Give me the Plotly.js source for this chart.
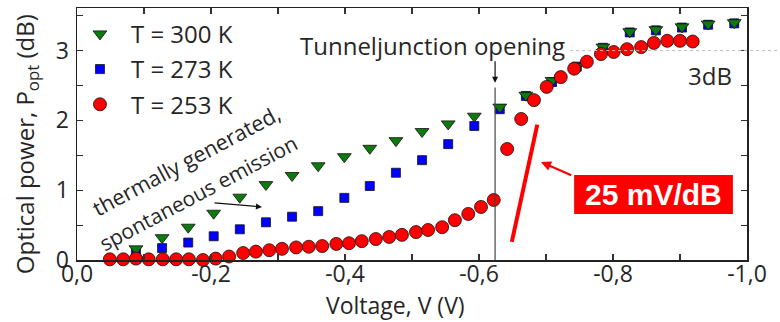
<!DOCTYPE html>
<html>
<head>
<meta charset="utf-8">
<script src="https://cdn.plot.ly/plotly-3.0.1.min.js"></script>
<style>html,body{margin:0;padding:0;background:#fff;}#chart{width:780px;height:322px;}</style>
</head>
<body>
<div id="chart"></div>
<script>
// ---- data (voltage in V, optical power in dB) ----
const seriesNames = ['T = 300 K', 'T = 273 K', 'T = 253 K'];

const v300 = [-0.088,-0.127,-0.166,-0.204,-0.243,-0.282,-0.321,-0.360,-0.399,-0.437,-0.476,-0.515,-0.554,-0.593,-0.631,-0.670,-0.709,-0.746,-0.785,-0.825,-0.864,-0.903,-0.942,-0.981];
const p300 = [0.16,0.32,0.47,0.67,0.90,1.08,1.21,1.35,1.48,1.60,1.71,1.84,1.95,2.06,2.19,2.36,2.57,2.77,3.05,3.27,3.30,3.34,3.38,3.40];

const v273 = [-0.088,-0.127,-0.166,-0.204,-0.243,-0.282,-0.321,-0.360,-0.399,-0.437,-0.476,-0.515,-0.554,-0.593,-0.631,-0.670,-0.709,-0.746,-0.785,-0.825,-0.864,-0.903,-0.942,-0.981];
const p273 = [0.11,0.17,0.25,0.34,0.44,0.54,0.62,0.70,0.89,1.06,1.25,1.43,1.66,1.92,2.16,2.35,2.55,2.77,3.04,3.26,3.29,3.33,3.37,3.39];

const v253 = [-0.049,-0.069,-0.088,-0.107,-0.128,-0.148,-0.167,-0.188,-0.207,-0.227,-0.248,-0.267,-0.287,-0.306,-0.327,-0.346,-0.366,-0.387,-0.406,-0.425,-0.446,-0.466,-0.485,-0.506,-0.524,-0.545,-0.564,-0.584,-0.603,-0.622,-0.642,-0.663,-0.682,-0.701,-0.722,-0.742,-0.761,-0.782,-0.801,-0.821,-0.842,-0.861,-0.881,-0.900,-0.919];
const p253 = [0.01,0.01,0.02,0.01,0.01,0.01,0.01,0.00,0.02,0.05,0.10,0.12,0.14,0.16,0.18,0.19,0.20,0.23,0.24,0.27,0.30,0.33,0.36,0.40,0.43,0.47,0.57,0.66,0.76,0.86,1.59,2.02,2.29,2.48,2.62,2.74,2.84,2.95,2.98,3.02,3.05,3.11,3.14,3.14,3.13];

const xTickVals = [0, -0.2, -0.4, -0.6, -0.8, -1.0];
const xTickText = ['0,0', '-0,2', '-0,4', '-0,6', '-0,8', '-1,0'];
const yTickVals = [0, 1, 2, 3];
const yTickText = ['0', '1', '2', '3'];

// ---- chart ----
const FONT = 'Open Sans, DejaVu Sans, sans-serif';
const TXT = '#262626';

const traces = [
  {x: v273, y: p273, name: seriesNames[1], type: 'scatter', mode: 'markers', cliponaxis: false,
   legendrank: 2, legendgroup: 'b',
   marker: {symbol: 'square', size: 9, color: '#0000ff', line: {color: '#111', width: 0.8}}},
  {x: v300, y: p300, name: seriesNames[0], type: 'scatter', mode: 'markers', cliponaxis: false,
   legendrank: 1, legendgroup: 'a',
   marker: {symbol: 'triangle-down', size: 12, color: '#0d7a0d', line: {color: '#111', width: 0.8}}},
  {x: v253, y: p253, name: seriesNames[2], type: 'scatter', mode: 'markers', cliponaxis: false,
   legendrank: 3, legendgroup: 'c',
   marker: {symbol: 'circle', size: 13, color: '#ff0000', line: {color: '#111', width: 0.8}}}
];

const axisCommon = {
  showline: true, linecolor: '#222', linewidth: 1.5, mirror: 'ticks',
  ticks: 'inside', ticklen: 6, tickwidth: 1.2, tickcolor: '#333',
  showgrid: false, zeroline: false,
  tickfont: {family: FONT, size: 23, color: TXT}
};

const layout = {
  width: 780, height: 322,
  margin: {l: 77, r: 33, t: 8, b: 62},
  paper_bgcolor: '#fff', plot_bgcolor: '#fff',
  font: {family: FONT, size: 23, color: TXT},
  showlegend: true,
  legend: {x: -0.012, y: 0.985, xanchor: 'left', yanchor: 'top', bgcolor: 'rgba(0,0,0,0)',
           font: {family: FONT, size: 24, color: TXT}, itemwidth: 52, tracegroupgap: 1},
  xaxis: Object.assign({}, axisCommon, {
    range: [0, -1.0], tickmode: 'array', tickvals: xTickVals, ticktext: xTickText,
    ticklabelstandoff: -7,
    minor: {tickmode: 'linear', tick0: 0, dtick: 0.1, ticks: 'inside', ticklen: 6, tickwidth: 1.2, tickcolor: '#333', showgrid: false}
  }),
  yaxis: Object.assign({}, axisCommon, {
    range: [0, 3.61], tickmode: 'array', tickvals: yTickVals, ticktext: yTickText,
    ticklabelstandoff: 2,
    minor: {tickmode: 'linear', tick0: 0, dtick: 0.5, ticks: 'inside', ticklen: 6, tickwidth: 1.2, tickcolor: '#333', showgrid: false}
  }),
  shapes: [
    // tunnel junction vertical line
    {type: 'line', xref: 'x', yref: 'y', x0: -0.624, x1: -0.624, y0: 0, y1: 2.47, line: {color: '#444', width: 1.2}},
    // 3 dB dotted reference
    {type: 'line', xref: 'paper', yref: 'y', x0: 0.736, x1: 1.049, y0: 3, y1: 3, line: {color: '#bbbbbb', width: 1, dash: 'dot'}},
    // slope line
    {type: 'line', xref: 'x', yref: 'y', x0: -0.649, y0: 0.26, x1: -0.687, y1: 1.94, line: {color: '#ff0000', width: 4}},
    // red label box
    {type: 'rect', xref: 'x', yref: 'y', x0: -0.742, x1: -0.979, y0: 0.659, y1: 1.218, fillcolor: '#ff0000', line: {width: 0}}
  ],
  annotations: [
    {xref: 'paper', yref: 'paper', x: 0.476, y: -0.18, xanchor: 'center', yanchor: 'middle', showarrow: false,
     text: 'Voltage, V (V)', font: {family: FONT, size: 23, color: TXT}},
    {xref: 'paper', yref: 'paper', x: -0.076, y: 0.46, xanchor: 'center', yanchor: 'middle', showarrow: false,
     textangle: -90, text: 'Optical power, P<sub>opt</sub> (dB)', font: {family: FONT, size: 24, color: TXT}},
    {xref: 'x', yref: 'y', x: -0.531, y: 3.08, xanchor: 'center', yanchor: 'middle', showarrow: false,
     text: 'Tunneljunction opening', font: {family: FONT, size: 24, color: TXT}},
    {xref: 'x', yref: 'y', x: -0.945, y: 2.64, xanchor: 'center', yanchor: 'middle', showarrow: false,
     text: '3dB', font: {family: FONT, size: 24, color: TXT}},
    {xref: 'x', yref: 'y', x: -(186 - 77) / 670, y: (260 - 161) / 69.77, xanchor: 'center', yanchor: 'middle', showarrow: false,
     textangle: -28, text: 'thermally generated,', font: {family: FONT, size: 21.5, color: TXT}},
    {xref: 'x', yref: 'y', x: -(198 - 77) / 670, y: (260 - 193) / 69.77, xanchor: 'center', yanchor: 'middle', showarrow: false,
     textangle: -28, text: 'spontaneous emission', font: {family: FONT, size: 21, color: TXT}},
    // black arrow to curves
    {xref: 'x', yref: 'y', axref: 'x', ayref: 'y', x: -0.276, y: 0.76, ax: -0.203, ay: 0.82, text: '',
     showarrow: true, arrowhead: 2, arrowsize: 1, arrowwidth: 1.2, arrowcolor: '#111'},
    // tunnel junction arrow
    {xref: 'x', yref: 'y', axref: 'x', ayref: 'y', x: -0.624, y: 2.54, ax: -0.624, ay: 2.87, text: '',
     showarrow: true, arrowhead: 2, arrowsize: 1, arrowwidth: 1.2, arrowcolor: '#111'},
    // red arrow to slope line
    {xref: 'x', yref: 'y', axref: 'x', ayref: 'y', x: -0.6925, y: 1.405, ax: -0.740, ay: 1.204, text: '',
     showarrow: true, arrowhead: 2, arrowsize: 1, arrowwidth: 2, arrowcolor: '#ff0000'},
    // slope label
    {xref: 'x', yref: 'y', x: -0.861, y: 0.94, xanchor: 'center', yanchor: 'middle', showarrow: false,
     text: '<b>25 mV/dB</b>', font: {family: 'Liberation Sans, Arial, sans-serif', size: 30, color: '#ffffff'}}
  ]
};

Plotly.newPlot('chart', traces, layout, {displayModeBar: false, staticPlot: true});
</script>
</body>
</html>
